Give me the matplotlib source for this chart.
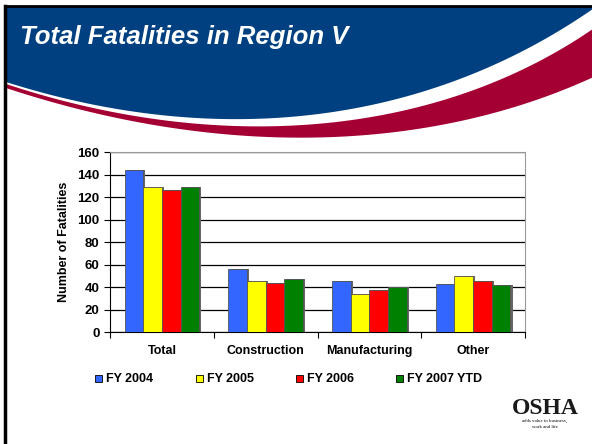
import matplotlib.pyplot as plt
from matplotlib.patches import Polygon, Rectangle
import numpy as np

categories = ['Total', 'Construction', 'Manufacturing', 'Other']
series = ['FY 2004', 'FY 2005', 'FY 2006', 'FY 2007 YTD']
fy2004 = [144, 56, 45, 43]
fy2005 = [129, 45, 34, 50]
fy2006 = [126, 44, 37, 45]
fy2007 = [129, 47, 40, 42]
colors = ['#3366FF', '#FFFF00', '#FF0000', '#008000']

plt.rcParams['font.family'] = ['Liberation Sans', 'DejaVu Sans']

W, H = 592, 444
fig = plt.figure(figsize=(W / 100, H / 100), dpi=100)

# background slide drawn in pixel coords
bg = fig.add_axes([0, 0, 1, 1])
bg.set_xlim(0, W)
bg.set_ylim(H, 0)
bg.axis('off')


def bez(p0, p1, p2, p3, n=80):
    t = np.linspace(0, 1, n)[:, None]
    p0, p1, p2, p3 = map(np.array, (p0, p1, p2, p3))
    return (1 - t) ** 3 * p0 + 3 * (1 - t) ** 2 * t * p1 + 3 * (1 - t) * t ** 2 * p2 + t ** 3 * p3


# header swoosh
blue_edge = bez((6, 82), (220, 150), (430, 125), (600, 4))
red_top = bez((6, 84), (220, 155), (440, 138), (600, 24))
red_bot = bez((6, 88), (230, 162), (440, 150), (600, 74))

blue = np.vstack([[[6, 7]], blue_edge, [[600, 7]]])
bg.add_patch(Polygon(blue, closed=True, facecolor='#004080', edgecolor='none'))
red = np.vstack([red_top, red_bot[::-1]])
bg.add_patch(Polygon(red, closed=True, facecolor='#A50034', edgecolor='none'))
bg.plot([5, 5], [6, H], color='black', lw=2.5)
bg.plot([5, W], [6, 6], color='black', lw=2.0)

bg.text(20, 37, 'Total Fatalities in Region V', color='white', fontsize=18.5,
        fontweight='bold', fontstyle='italic', va='center', ha='left')

# OSHA logo text
bg.text(545, 408, 'OSHA', fontsize=17, family='Liberation Serif', fontweight='bold',
        color='#1a1a1a', ha='center', va='center')
bg.text(545, 421, 'adds value to business,', fontsize=3.5, family='Liberation Serif',
        ha='center', va='center')
bg.text(545, 427, 'work and life', fontsize=3.5, family='Liberation Serif',
        ha='center', va='center')

# chart
ax = fig.add_axes([110 / W, 1 - 332 / H, 415 / W, 180 / H])
x = np.arange(len(categories))
bw = 0.18
data = [fy2004, fy2005, fy2006, fy2007]
for i, (vals, c) in enumerate(zip(data, colors)):
    pos = x + (i - 1.5) * bw
    ax.bar(pos + 0.02, vals, bw, color='#666666', edgecolor='none', zorder=2)
    ax.bar(pos, vals, bw, color=c, edgecolor='#555555', linewidth=0.6, zorder=3)

ax.set_xlim(-0.5, 3.5)
ax.set_ylim(0, 160)
ax.set_yticks(range(0, 161, 20))
ax.yaxis.grid(True, color='black', linewidth=0.9)
ax.set_axisbelow(True)
ax.set_xticks(np.arange(-0.5, 3.6, 1))
ax.set_xticklabels([])
ax.tick_params(axis='x', length=4, direction='out')
ax.tick_params(axis='y', length=4, direction='out', labelsize=9.5)
for lab in ax.get_yticklabels():
    lab.set_fontweight('bold')
for i, cat in enumerate(categories):
    ax.text(i, -17, cat, ha='center', va='center', fontsize=9, fontweight='bold')
ax.set_ylabel('Number of Fatalities', fontsize=9, fontweight='bold', labelpad=5)
for s in ['top', 'right']:
    ax.spines[s].set_color('#999999')
for s in ['left', 'bottom']:
    ax.spines[s].set_color('black')

# legend
lx = [95, 196, 296, 396]
for px, name, c in zip(lx, series, colors):
    bg.add_patch(Rectangle((px, 375), 7, 7, facecolor=c, edgecolor='black', lw=0.6))
    bg.text(px + 11, 378.5, name, fontsize=9, fontweight='bold', va='center', ha='left')

fig.savefig('out.png', dpi=100)
